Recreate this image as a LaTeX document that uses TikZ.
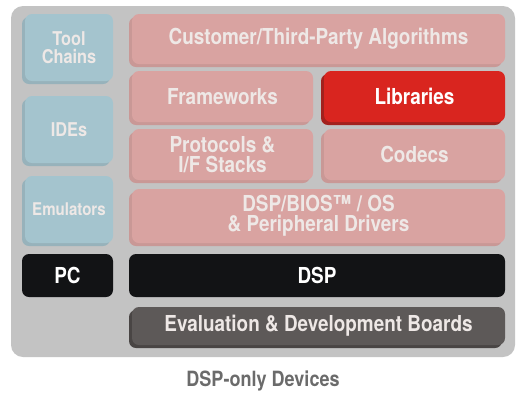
\documentclass[tikz,border=0pt]{standalone}
\usepackage{fontspec}
\setmainfont[FakeStretch=0.86]{TeX Gyre Heros}
\usetikzlibrary{shadows}
\definecolor{panelgray}{HTML}{C3C3C3}
\definecolor{blu}{HTML}{A4C4CE}
\definecolor{bludark}{HTML}{97B2BB}
\definecolor{pnk}{HTML}{D9A3A1}
\definecolor{pnkdark}{HTML}{C99896}
\definecolor{lighttext}{HTML}{EEE8E6}
\definecolor{red1}{HTML}{D9251F}
\definecolor{reddark}{HTML}{A2211D}
\definecolor{blk}{HTML}{121315}
\definecolor{brd}{HTML}{5D5958}
\definecolor{brddark}{HTML}{494544}
\definecolor{titlegray}{HTML}{6B6B6B}
\begin{document}
\begin{tikzpicture}[x=1pt, y=-1pt,
    b/.style={rounded corners=7pt, inner sep=0pt, align=center,
        font=\bfseries\fontsize{22}{20}\selectfont, text=lighttext},
    sh/.style={drop shadow={shadow xshift=-3pt, shadow yshift=-3pt,
        opacity=1, fill=#1}},
    tl/.style={b, fill=blu, sh=bludark, minimum width=88pt, minimum height=67pt,
        font=\bfseries\fontsize{19}{18}\selectfont},
    sw/.style={b, fill=pnk, sh=pnkdark}
]
    \useasboundingbox (0,0) rectangle (526,400);

    % grey panel
    \node[fill=panelgray, rounded corners=12pt, minimum width=504pt,
        minimum height=351pt, inner sep=0pt] (panel) at (263,181.5) {};

    % host side
    \node[tl] (tools) at (69,47.5) {Tool\\Chains};
    \node[tl] (ides) at (69,129.5) {IDEs};
    \node[tl, font=\bfseries\fontsize{17.5}{18}\selectfont] (emus) at (69,209.5) {Emulators};
    \node[b, fill=blk, text=white, minimum width=91pt, minimum height=43pt]
        (pc) at (67.5,275.5) {PC};

    % target software
    \node[sw, minimum width=373pt, minimum height=50pt] (algos) at (318.5,39) {Customer/Third-Party Algorithms};
    \node[sw, minimum width=181pt, minimum height=51pt] (frame) at (222.5,96.5) {Frameworks};
    \node[b, fill=red1, sh=reddark, text=white, minimum width=181pt, minimum height=51pt] (libs) at (414.5,96.5) {Libraries};
    \node[sw, minimum width=181pt, minimum height=51pt] (proto) at (222.5,154.5) {Protocols \&\\I/F Stacks};
    \node[sw, minimum width=181pt, minimum height=51pt] (codecs) at (414.5,154.5) {Codecs};
    \node[sw, minimum width=373pt, minimum height=54pt] (bios) at (318.5,216) {DSP/BIOS™ / OS\\\& Peripheral Drivers};

    % hardware
    \node[b, fill=blk, text=white, minimum width=376pt, minimum height=43pt] (dsp) at (317,275.5) {DSP};
    \node[b, fill=brd, sh=brddark, text=lighttext, minimum width=373pt, minimum height=38pt] (boards) at (318.5,326) {Evaluation \& Development Boards};

    \node[font=\bfseries\fontsize{21}{19}\selectfont, text=titlegray] (title) at (263,381) {DSP-only Devices};

\end{tikzpicture}
\end{document}
